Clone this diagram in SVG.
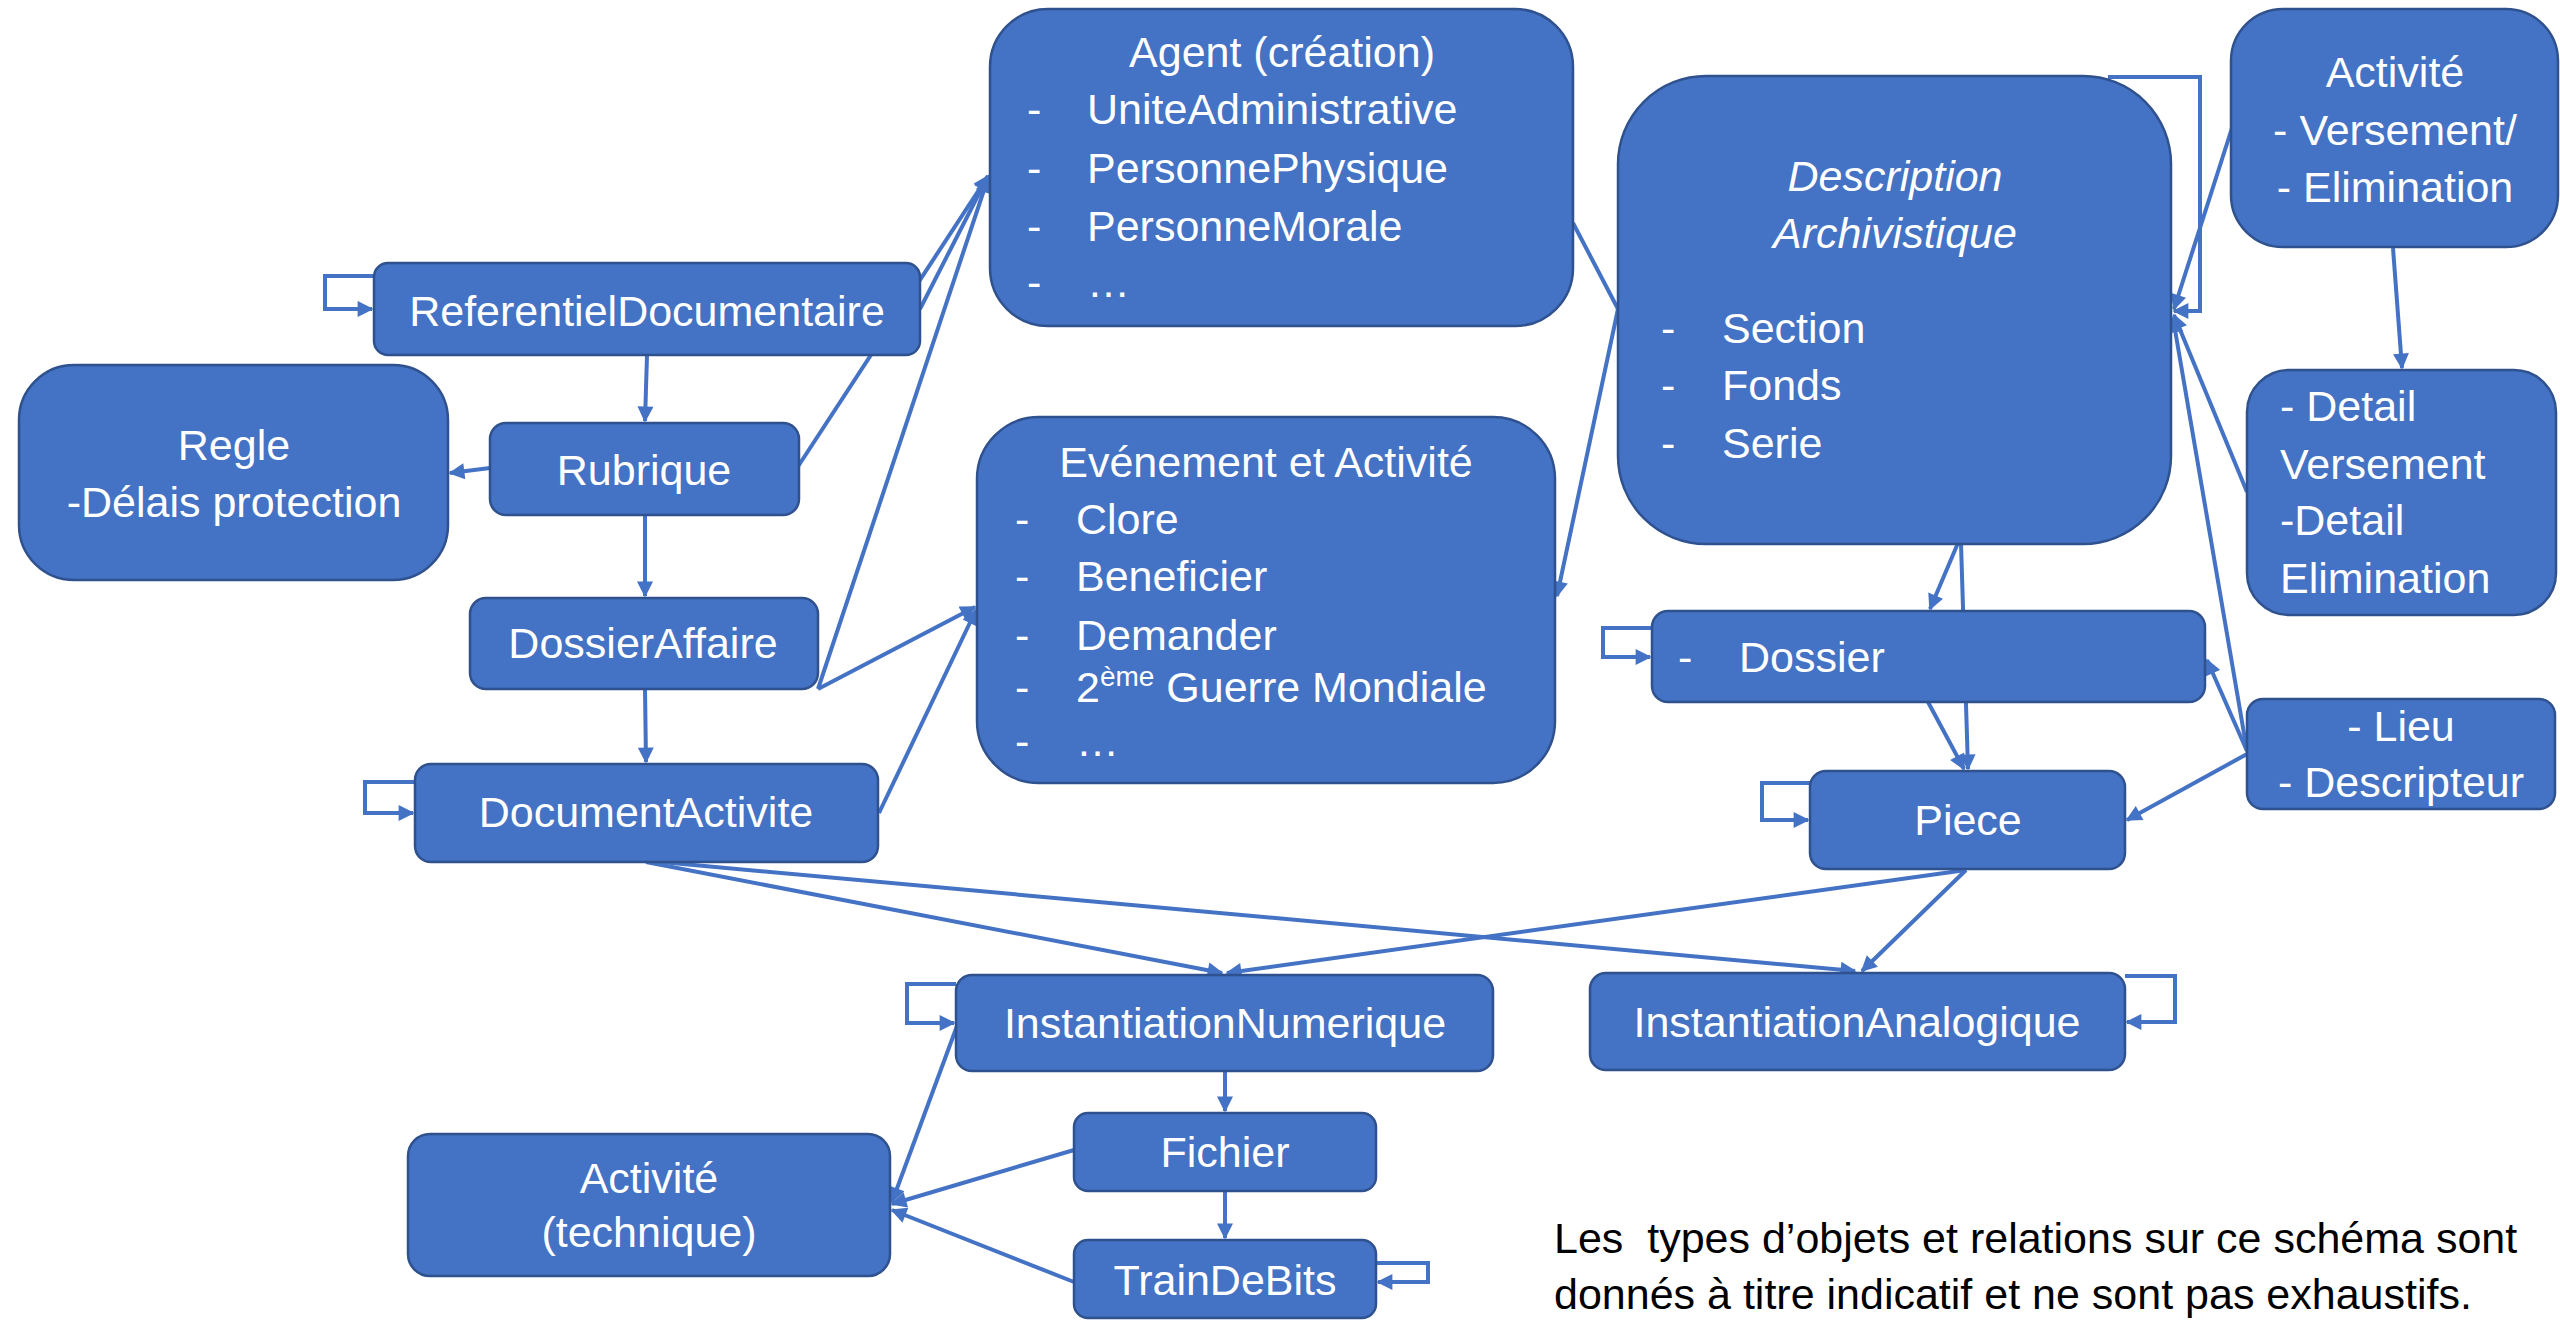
<svg xmlns="http://www.w3.org/2000/svg" width="2560" height="1320" viewBox="0 0 2560 1320">
<style>
.node{fill:#4472C4;stroke:#2F528F;stroke-width:2.5}
.t{font-family:"Liberation Sans",Arial,sans-serif;font-size:43px;fill:#FFFFFF}
.c{text-anchor:middle}
.i{font-style:italic}
.conn path{fill:none;stroke:#4472C4;stroke-width:4}
.note{font-family:"Liberation Sans",Arial,sans-serif;font-size:43px;fill:#000000}
</style>
<defs>
<marker id="ah" viewBox="0 0 10 10" refX="9" refY="5" markerUnits="userSpaceOnUse" markerWidth="18" markerHeight="16" orient="auto">
<path d="M0,0 L10,5 L0,10 z" fill="#4472C4"/>
</marker>
</defs>
<rect width="2560" height="1320" fill="#FFFFFF"/>
<g id="connectors" class="conn">
<path d="M374,276 H325 V309 H372" marker-end="url(#ah)"/>
<path d="M647,355 L645,421" marker-end="url(#ah)"/>
<path d="M490,468 L450,473" marker-end="url(#ah)"/>
<path d="M645,515 V596" marker-end="url(#ah)"/>
<path d="M645,689 L646,762" marker-end="url(#ah)"/>
<path d="M797,468 L988,176" marker-end="url(#ah)"/>
<path d="M920,309 L988,176" marker-end="url(#ah)"/>
<path d="M818,689 L988,178" marker-end="url(#ah)"/>
<path d="M818,689 L975,607" marker-end="url(#ah)"/>
<path d="M879,813 L976,610" marker-end="url(#ah)"/>
<path d="M415,782 H365 V813 H413" marker-end="url(#ah)"/>
<path d="M1573,223 L1618,309"/>
<path d="M1618,309 L1557,596" marker-end="url(#ah)"/>
<path d="M2108,77 H2200 V311 H2174" marker-end="url(#ah)"/>
<path d="M2232,128 L2174,309" marker-end="url(#ah)"/>
<path d="M2247,492 L2174,315" marker-end="url(#ah)"/>
<path d="M2247,751 L2173,318" marker-end="url(#ah)"/>
<path d="M2247,751 L2207,660" marker-end="url(#ah)"/>
<path d="M2247,754 L2127,820" marker-end="url(#ah)"/>
<path d="M2393,248 L2402,368" marker-end="url(#ah)"/>
<path d="M1958,543 L1930,609" marker-end="url(#ah)"/>
<path d="M1961,543 L1968,769" marker-end="url(#ah)"/>
<path d="M1928,702 L1964,769" marker-end="url(#ah)"/>
<path d="M1652,628 H1603 V657 H1650" marker-end="url(#ah)"/>
<path d="M1810,783 H1762 V820 H1808" marker-end="url(#ah)"/>
<path d="M1966,870 L1227,973" marker-end="url(#ah)"/>
<path d="M1966,870 L1862,971" marker-end="url(#ah)"/>
<path d="M646,862 L1222,973" marker-end="url(#ah)"/>
<path d="M661,862 L1855,971" marker-end="url(#ah)"/>
<path d="M2125,976 H2175 V1022 H2127" marker-end="url(#ah)"/>
<path d="M956,984 H907 V1023 H954" marker-end="url(#ah)"/>
<path d="M1225,1071 V1111" marker-end="url(#ah)"/>
<path d="M1225,1191 V1238" marker-end="url(#ah)"/>
<path d="M1376,1263 H1428 V1282 H1378" marker-end="url(#ah)"/>
<path d="M1074,1150 L892,1204" marker-end="url(#ah)"/>
<path d="M1074,1282 L892,1210" marker-end="url(#ah)"/>
<path d="M957,1026 L892,1202" marker-end="url(#ah)"/>
</g>
<g id="referentiel">
<rect class="node" x="374" y="263" width="546" height="92" rx="14"/>
<text class="t c" x="647" y="326">ReferentielDocumentaire</text>
</g>
<g id="regle">
<rect class="node" x="19" y="365" width="429" height="215" rx="55"/>
<text class="t c" x="234" y="460">Regle</text>
<text class="t c" x="234" y="517">-Délais protection</text>
</g>
<g id="rubrique">
<rect class="node" x="490" y="423" width="309" height="92" rx="16"/>
<text class="t c" x="644" y="485">Rubrique</text>
</g>
<g id="dossieraffaire">
<rect class="node" x="470" y="598" width="348" height="91" rx="16"/>
<text class="t c" x="643" y="658">DossierAffaire</text>
</g>
<g id="documentactivite">
<rect class="node" x="415" y="764" width="463" height="98" rx="16"/>
<text class="t c" x="646" y="827">DocumentActivite</text>
</g>
<g id="agent">
<rect class="node" x="990" y="9" width="583" height="317" rx="58"/>
<text class="t c" x="1282" y="67">Agent (création)</text>
<text class="t" x="1027" y="124">-</text><text class="t" x="1087" y="124">UniteAdministrative</text>
<text class="t" x="1027" y="183">-</text><text class="t" x="1087" y="183">PersonnePhysique</text>
<text class="t" x="1027" y="241">-</text><text class="t" x="1087" y="241">PersonneMorale</text>
<text class="t" x="1027" y="297">-</text><text class="t" x="1087" y="297">…</text>
</g>
<g id="evenement">
<rect class="node" x="977" y="417" width="578" height="366" rx="62"/>
<text class="t c" x="1266" y="477">Evénement et Activité</text>
<text class="t" x="1015" y="534">-</text><text class="t" x="1076" y="534">Clore</text>
<text class="t" x="1015" y="591">-</text><text class="t" x="1076" y="591">Beneficier</text>
<text class="t" x="1015" y="650">-</text><text class="t" x="1076" y="650">Demander</text>
<text class="t" x="1015" y="702">-</text><text class="t" x="1076" y="702">2<tspan font-size="28" dy="-16">ème</tspan><tspan dy="16"> Guerre Mondiale</tspan></text>
<text class="t" x="1015" y="756">-</text><text class="t" x="1076" y="756">…</text>
</g>
<g id="description">
<rect class="node" x="1618" y="76" width="553" height="468" rx="88"/>
<text class="t c i" x="1895" y="191">Description</text>
<text class="t c i" x="1895" y="248">Archivistique</text>
<text class="t" x="1661" y="343">-</text><text class="t" x="1722" y="343">Section</text>
<text class="t" x="1661" y="400">-</text><text class="t" x="1722" y="400">Fonds</text>
<text class="t" x="1661" y="458">-</text><text class="t" x="1722" y="458">Serie</text>
</g>
<g id="activite-versement">
<rect class="node" x="2231" y="9" width="327" height="238" rx="52"/>
<text class="t c" x="2395" y="87">Activité</text>
<text class="t c" x="2395" y="145">- Versement/</text>
<text class="t c" x="2395" y="202">- Elimination</text>
</g>
<g id="detail">
<rect class="node" x="2247" y="370" width="309" height="245" rx="42"/>
<text class="t" x="2280" y="421">- Detail</text>
<text class="t" x="2280" y="479">Versement</text>
<text class="t" x="2280" y="535">-Detail</text>
<text class="t" x="2280" y="593">Elimination</text>
</g>
<g id="dossier">
<rect class="node" x="1652" y="611" width="553" height="91" rx="16"/>
<text class="t" x="1678" y="672">-</text><text class="t" x="1739" y="672">Dossier</text>
</g>
<g id="piece">
<rect class="node" x="1810" y="771" width="315" height="98" rx="16"/>
<text class="t c" x="1968" y="835">Piece</text>
</g>
<g id="lieu">
<rect class="node" x="2247" y="699" width="308" height="110" rx="16"/>
<text class="t c" x="2401" y="741">- Lieu</text>
<text class="t c" x="2401" y="797">- Descripteur</text>
</g>
<g id="instantiation-analogique">
<rect class="node" x="1590" y="973" width="535" height="97" rx="16"/>
<text class="t c" x="1857" y="1037">InstantiationAnalogique</text>
</g>
<g id="instantiation-numerique">
<rect class="node" x="956" y="975" width="537" height="96" rx="16"/>
<text class="t c" x="1225" y="1038">InstantiationNumerique</text>
</g>
<g id="fichier">
<rect class="node" x="1074" y="1113" width="302" height="78" rx="14"/>
<text class="t c" x="1225" y="1167">Fichier</text>
</g>
<g id="traindebits">
<rect class="node" x="1074" y="1240" width="302" height="78" rx="14"/>
<text class="t c" x="1225" y="1295">TrainDeBits</text>
</g>
<g id="activite-technique">
<rect class="node" x="408" y="1134" width="482" height="142" rx="22"/>
<text class="t c" x="649" y="1193">Activité</text>
<text class="t c" x="649" y="1247">(technique)</text>
</g>
<g id="note">
<text class="note" x="1554" y="1253" xml:space="preserve">Les  types d’objets et relations sur ce schéma sont</text>
<text class="note" x="1554" y="1309">donnés à titre indicatif et ne sont pas exhaustifs.</text>
</g>
</svg>
